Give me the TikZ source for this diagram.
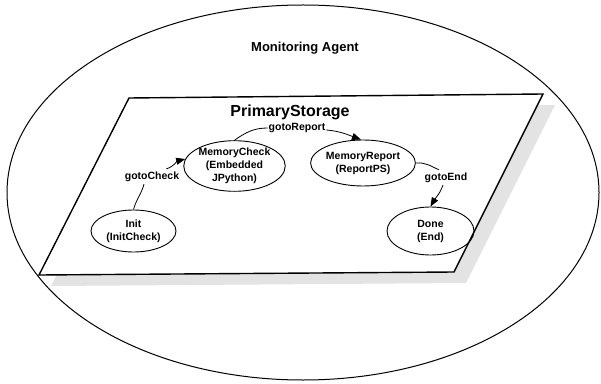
\documentclass[tikz,border=0pt]{standalone}
\usepackage{fontspec}
\setmainfont{Liberation Sans}
\usetikzlibrary{shapes.geometric,arrows.meta}
\begin{document}
\begin{tikzpicture}[x=1pt,y=1pt,
  state/.style={draw,ellipse,line width=0.9pt,inner sep=0pt,align=center,
    font=\fontsize{10.5}{13}\selectfont\bfseries},
  elabel/.style={inner sep=1pt,font=\fontsize{10.5}{13}\selectfont\bfseries},
  edge/.style={line width=0.8pt},
  arr/.style={edge,-{Triangle[length=9pt,width=7pt]}}]
\useasboundingbox (0,0) rectangle (601,383);
% outer agent
\draw[line width=1pt] (303,190.5) ellipse [x radius=296,y radius=187.5];
\node[font=\fontsize{13}{15}\selectfont\bfseries] (agent) at (305,335) {Monitoring Agent};
% shadow and plane
\fill[gray!22] (141,274) -- (555,278) -- (466,100) -- (51,97) -- cycle;
\filldraw[fill=white,line width=1.4pt] (129,285) -- (543,289) -- (454,111) -- (39,108) -- cycle;
\node[font=\fontsize{16}{18}\selectfont\bfseries] (ps) at (290,271) {PrimaryStorage};
% states
\node[state,minimum width=85,minimum height=42] (init) at (133.5,152) {Init\\(InitCheck)};
\node[state,minimum width=96,minimum height=48] (mc) at (234.5,217) {MemoryCheck\\(Embedded\\JPython)};
\node[state,minimum width=102,minimum height=46] (mr) at (363,220) {MemoryReport\\(ReportPS)};
\node[state,minimum width=87,minimum height=48] (done) at (430.5,152) {Done\\(End)};
% edge labels
\node[elabel] (lc) at (152,206) {gotoCheck};
\node[elabel] (lr) at (297,255) {gotoReport};
\node[elabel] (le) at (446,205) {gotoEnd};
% edges
\draw[edge] (init.north) to[out=75,in=-105] ([xshift=-8pt,yshift=-1pt]lc.south);
\draw[arr] ([xshift=-14pt,yshift=2pt]lc.north east) to[out=18,in=194] (mc.172);
\draw[edge] (mc.north) to[out=35,in=180] (lr.west);
\draw[arr] ([yshift=-2pt]lr.east) to[out=-5,in=160] (mr.95);
\draw[edge] (mr.east) to[out=5,in=155] ([xshift=-7pt,yshift=2pt]le.north);
\draw[arr] ([xshift=-3pt,yshift=-1pt]le.south) to[out=-110,in=60] (done.north);
\end{tikzpicture}
\end{document}
